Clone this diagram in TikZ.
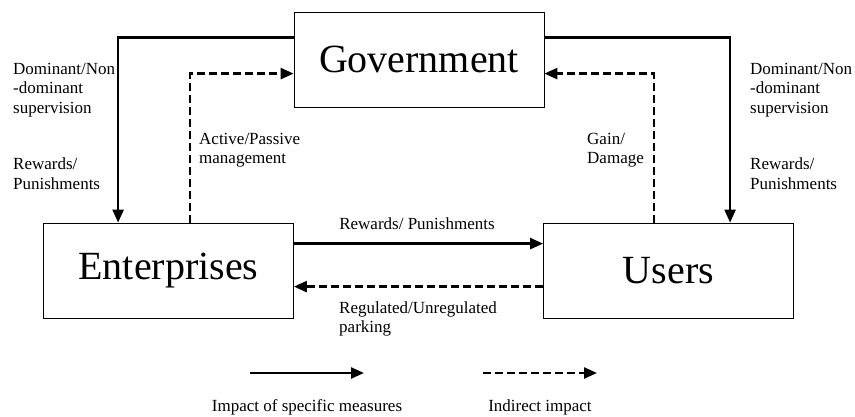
\documentclass[tikz,border=0pt]{standalone}
\usepackage{fontspec}
\setmainfont{Liberation Serif}
\usetikzlibrary{arrows.meta}
\begin{document}
\begin{tikzpicture}[x=1pt,y=-1pt,
  box/.style={draw, line width=0.8pt, minimum width=250pt, minimum height=95pt, inner sep=0pt, font=\fontsize{40}{44}\selectfont},
  measure/.style={line width=2.4pt, -{Triangle[length=13pt,width=11pt]}},
  indirect/.style={measure, dash pattern=on 8pt off 4pt},
  lbl/.style={font=\fontsize{17}{19.5}\selectfont, align=left, inner sep=0pt, anchor=west}]
  \useasboundingbox (0,0) rectangle (855,416);

  % The three actors
  \node[box] (gov) at (419,59.5) {Government};
  \node[box] (ent) at (168.5,270.5) {Enterprises};
  \node[box] (users) at (668.5,270.5) {Users};

  % Government to enterprises and users
  \draw[measure] ([yshift=-26pt]gov.north west) -| ([xshift=75pt]ent.north west);
  \draw[measure] ([yshift=-26pt]gov.north east) -| ([xshift=187pt]users.north west);
  \draw[indirect] ([xshift=147pt]ent.north west) |- ([yshift=-62pt]gov.north west);
  \draw[indirect] ([xshift=111pt]users.north west) |- ([yshift=-62pt]gov.north east);

  % Between enterprises and users
  \draw[measure] ([yshift=-21pt]ent.north east) -- ([yshift=-21pt]users.north west);
  \draw[indirect] ([yshift=-64pt]users.north west) -- ([yshift=-64pt]ent.north east);

  % Labels
  \node[lbl] (supl) at (13,90) {Dominant/Non\\-dominant\\supervision};
  \node[lbl] (rewl) at (13,173.5) {Rewards/\\Punishments};
  \node[lbl] (supr) at (750,90) {Dominant/Non\\-dominant\\supervision};
  \node[lbl] (rewr) at (750,173.5) {Rewards/\\Punishments};
  \node[lbl] (manage) at (199,150) {Active/Passive\\management};
  \node[lbl] (gain) at (587,150) {Gain/\\Damage};
  \node[lbl, anchor=center] (rewmid) at (417,224) {Rewards/ Punishments};
  \node[lbl] (park) at (339,319) {Regulated/Unregulated\\parking};

  % Legend
  \coordinate (m1) at (250,373);
  \coordinate (m2) at (364,373);
  \coordinate (i1) at (483,373);
  \coordinate (i2) at (597,373);
  \draw[measure] (m1) -- (m2);
  \draw[indirect] (i1) -- (i2);
  \node[lbl, anchor=center] (mtext) at (307,407) {Impact of specific measures};
  \node[lbl, anchor=center] (itext) at (540,407) {Indirect impact};
\end{tikzpicture}
\end{document}
